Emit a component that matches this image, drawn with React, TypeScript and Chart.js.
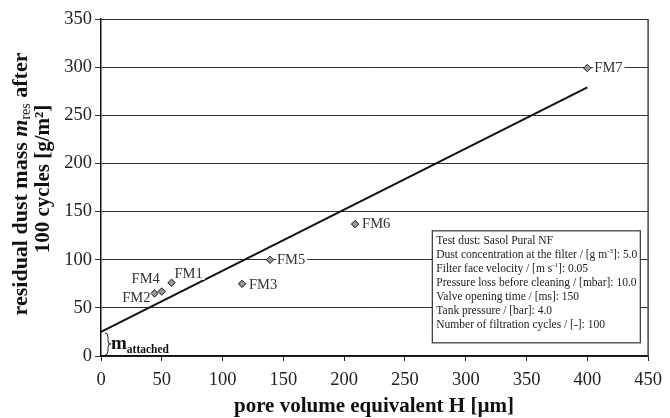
import React, { useEffect, useRef } from "react";
import { Chart, registerables } from "chart.js";

Chart.register(...registerables);

const pointLabels = ["FM1", "FM2", "FM3", "FM4", "FM5", "FM6", "FM7"];
const poreVolume = [58, 44, 116, 50, 139, 209, 400];
const residualMass = [76, 65, 75, 67, 100, 137, 299];
const trendX = [0, 400];
const trendY = [25, 279];
const xTicks = [0, 50, 100, 150, 200, 250, 300, 350, 400, 450];
const yTicks = [0, 50, 100, 150, 200, 250, 300, 350];
const boxLines = [
  [{ t: "Test dust: Sasol Pural NF" }],
  [{ t: "Dust concentration at the filter / [g m" }, { t: "-3", sup: true }, { t: "]: 5.0" }],
  [{ t: "Filter face velocity / [m s" }, { t: "-1", sup: true }, { t: "]: 0.05" }],
  [{ t: "Pressure loss before cleaning / [mbar]: 10.0" }],
  [{ t: "Valve opening time / [ms]: 150" }],
  [{ t: "Tank pressure / [bar]: 4.0" }],
  [{ t: "Number of filtration cycles / [-]: 100" }],
];

const SERIF = "'Liberation Serif', 'DejaVu Serif', serif";

// label placement: [dx, dy, align]
const labelPlace: Record<string, [number, number, CanvasTextAlign]> = {
  FM1: [3, -9, "left"],
  FM2: [-4, 5, "right"],
  FM3: [7, 1, "left"],
  FM4: [-2, -12, "right"],
  FM5: [7, 0, "left"],
  FM6: [7, 0, "left"],
  FM7: [7, 0, "left"],
};

const overlayPlugin = {
  id: "overlay",
  afterDatasetsDraw(chart: any) {
    const ctx: CanvasRenderingContext2D = chart.ctx;
    const area = chart.chartArea;
    const xs = chart.scales.x;
    const ys = chart.scales.y;
    ctx.save();
    // right border
    ctx.strokeStyle = "#444";
    ctx.lineWidth = 1.5;
    ctx.beginPath();
    ctx.moveTo(area.right, area.top);
    ctx.lineTo(area.right, area.bottom);
    ctx.stroke();

    // point labels
    const meta = chart.getDatasetMeta(1);
    ctx.font = `14.5px ${SERIF}`;
    ctx.textBaseline = "middle";
    meta.data.forEach((el: any, i: number) => {
      const name = pointLabels[i];
      const [dx, dy, al] = labelPlace[name];
      const tx = el.x + dx;
      const ty = el.y + dy;
      const w = ctx.measureText(name).width;
      const left = al === "left" ? tx : tx - w;
      ctx.fillStyle = "#fff";
      ctx.fillRect(left - 1, ty - 6, w + 3, 12);
      ctx.fillStyle = "#333";
      ctx.textAlign = al;
      ctx.fillText(name, tx, ty);
    });
    // redraw markers over label backgrounds
    ctx.fillStyle = "#9a9a9a";
    ctx.strokeStyle = "#333";
    ctx.lineWidth = 1;
    meta.data.forEach((el: any) => {
      const r = 3.6;
      ctx.beginPath();
      ctx.moveTo(el.x, el.y - r);
      ctx.lineTo(el.x + r, el.y);
      ctx.lineTo(el.x, el.y + r);
      ctx.lineTo(el.x - r, el.y);
      ctx.closePath();
      ctx.fill();
      ctx.stroke();
    });

    // text box
    const bx = xs.getPixelForValue(272.5);
    const by = ys.getPixelForValue(130);
    const bw = 208;
    const bh = 112;
    ctx.fillStyle = "#fff";
    ctx.fillRect(bx, by, bw, bh);
    ctx.strokeStyle = "#333";
    ctx.lineWidth = 1.2;
    ctx.strokeRect(bx, by, bw, bh);
    ctx.fillStyle = "#222";
    ctx.textAlign = "left";
    ctx.textBaseline = "alphabetic";
    boxLines.forEach((segs: any[], i: number) => {
      let x = bx + 4;
      const y = by + 13 + i * 14.1;
      segs.forEach((s) => {
        if (s.sup) {
          ctx.font = `7px ${SERIF}`;
          ctx.fillText(s.t, x, y - 5);
          x += ctx.measureText(s.t).width;
        } else {
          ctx.font = `11.5px ${SERIF}`;
          ctx.fillText(s.t, x, y);
          x += ctx.measureText(s.t).width;
        }
      });
    });

    // m_attached brace annotation
    const y0 = ys.getPixelForValue(0);
    const y25 = ys.getPixelForValue(25);
    const bxp = area.left + 4;
    ctx.strokeStyle = "#222";
    ctx.lineWidth = 1;
    ctx.beginPath();
    const mid = (y0 + y25) / 2;
    ctx.moveTo(bxp, y25 + 1);
    ctx.quadraticCurveTo(bxp + 3, y25 + 1, bxp + 3, y25 + 5);
    ctx.lineTo(bxp + 3, mid - 3);
    ctx.quadraticCurveTo(bxp + 3, mid, bxp + 6, mid);
    ctx.quadraticCurveTo(bxp + 3, mid, bxp + 3, mid + 3);
    ctx.lineTo(bxp + 3, y0 - 5);
    ctx.quadraticCurveTo(bxp + 3, y0 - 1, bxp, y0 - 1);
    ctx.stroke();
    ctx.fillStyle = "#111";
    ctx.font = `bold 19px ${SERIF}`;
    ctx.fillText("m", area.left + 10, mid + 5);
    const mw = ctx.measureText("m").width;
    ctx.font = `bold 11.5px ${SERIF}`;
    ctx.fillText("attached", area.left + 10 + mw, mid + 9);

    // x axis title
    ctx.font = `bold 21px ${SERIF}`;
    ctx.textAlign = "center";
    ctx.textBaseline = "middle";
    ctx.fillStyle = "#111";
    ctx.fillText("pore volume equivalent H [\u00b5m]", 374, 407);

    // y axis title (rotated, two lines)
    const drawRot = (segs: any[], cx: number, cy: number) => {
      ctx.save();
      ctx.translate(cx, cy);
      ctx.rotate(-Math.PI / 2);
      ctx.textAlign = "left";
      ctx.textBaseline = "alphabetic";
      let total = 0;
      segs.forEach((s) => {
        ctx.font = s.f;
        total += ctx.measureText(s.t).width;
      });
      let x = -total / 2;
      segs.forEach((s) => {
        ctx.font = s.f;
        ctx.fillText(s.t, x, 7 + (s.dy || 0));
        x += ctx.measureText(s.t).width;
      });
      ctx.restore();
    };
    const B1 = `bold 22px ${SERIF}`;
    const B2 = `bold 21px ${SERIF}`;
    drawRot(
      [
        { t: "residual dust mass ", f: B1 },
        { t: "m", f: `italic bold 22px ${SERIF}` },
        { t: "res", f: `14px ${SERIF}`, dy: 3 },
        { t: " after", f: B1 },
      ],
      20,
      184
    );
    drawRot([{ t: "100 cycles [g/m\u00b2]", f: B2 }], 42, 179);
    ctx.restore();
  },
};

export default function App() {
  const ref = useRef<HTMLCanvasElement>(null);
  useEffect(() => {
    document.body.style.margin = "0";
    const chart = new Chart(ref.current!, {
      type: "scatter",
      data: {
        datasets: [
          {
            type: "line",
            data: trendX.map((x, i) => ({ x, y: trendY[i] })),
            borderColor: "#111",
            borderWidth: 2,
            pointRadius: 0,
            fill: false,
          } as any,
          {
            data: poreVolume.map((x, i) => ({ x, y: residualMass[i] })),
            pointStyle: "rectRot",
            pointRadius: 3.6,
            backgroundColor: "#9a9a9a",
            borderColor: "#333",
            borderWidth: 1,
          },
        ],
      },
      options: {
        animation: false,
        responsive: false,
        layout: { padding: { left: 0, right: 19, top: 19, bottom: 0 } },
        plugins: { legend: { display: false }, tooltip: { enabled: false } },
        scales: {
          x: {
            type: "linear",
            min: 0,
            max: 450,
            afterBuildTicks: (s: any) => {
              s.ticks = xTicks.map((v) => ({ value: v }));
            },
            afterFit: (s: any) => {
              s.height = 62;
            },
            grid: {
              drawOnChartArea: false,
              drawTicks: true,
              tickLength: 5,
              color: "#222",
              tickWidth: 1,
            },
            border: { display: true, color: "#111", width: 1.5 },
            ticks: {
              padding: 8,
              color: "#222",
              font: { family: SERIF, size: 18.5 },
              maxRotation: 0,
            },
          },
          y: {
            type: "linear",
            min: 0,
            max: 350,
            afterBuildTicks: (s: any) => {
              s.ticks = yTicks.map((v) => ({ value: v }));
            },
            afterFit: (s: any) => {
              s.width = 101;
            },
            grid: {
              drawOnChartArea: true,
              drawTicks: true,
              tickLength: 6,
              color: "#333",
              lineWidth: 1,
            },
            border: { display: true, color: "#111", width: 1.5 },
            ticks: {
              padding: 3,
              color: "#222",
              font: { family: SERIF, size: 18.5 },
            },
          },
        },
      },
      plugins: [overlayPlugin],
    });
    return () => chart.destroy();
  }, []);
  return (
    <div style={{ position: "absolute", left: 0, top: 0, width: 670, height: 418 }}>
      <canvas ref={ref} width={670} height={418} style={{ display: "block" }} />
    </div>
  );
}
